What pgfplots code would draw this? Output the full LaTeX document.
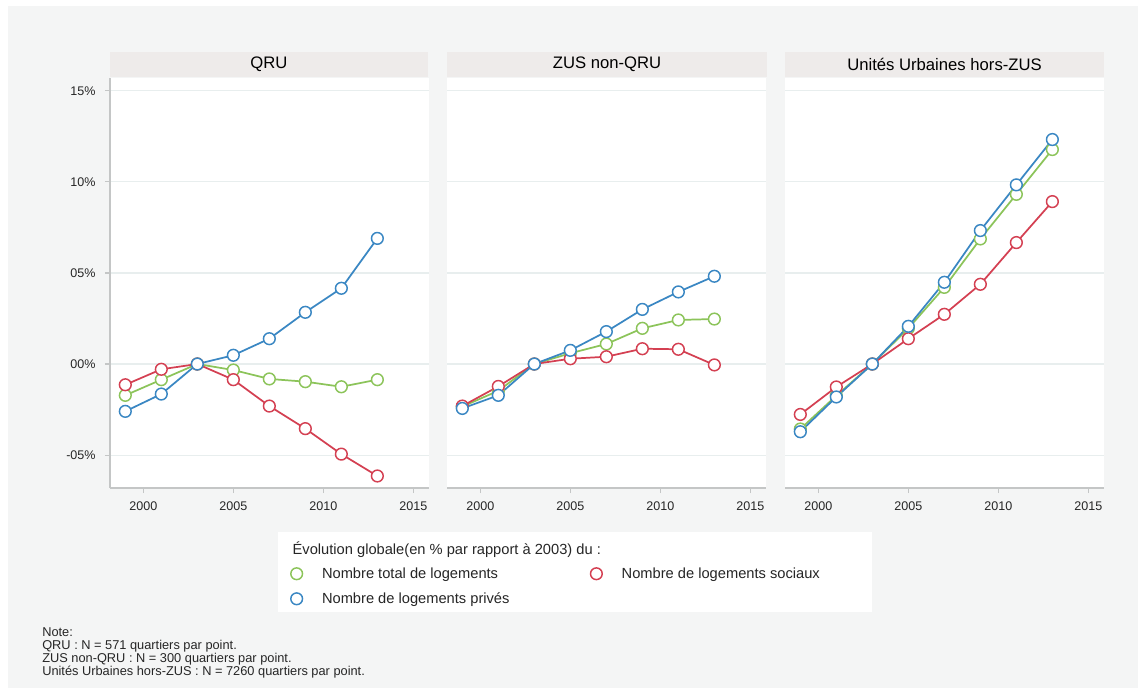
\documentclass[border=0pt]{standalone}
\usepackage{fontspec}
\setmainfont{Liberation Sans}
\usepackage{pgfplots}
\pgfplotsset{compat=1.18}
\definecolor{bgc}{HTML}{F4F5F5}
\definecolor{stripc}{HTML}{EEEBEA}
\definecolor{axc}{HTML}{C4C6C6}
\definecolor{gridc}{HTML}{E8EEEE}
\definecolor{cg}{RGB}{140,196,90}
\definecolor{cb}{RGB}{58,135,195}
\definecolor{cr}{RGB}{212,64,82}

% year, total, prives, sociaux
\pgfplotstableread{
x g b r
1999 -1.72 -2.60 -1.14
2001 -0.86 -1.65 -0.29
2003 0 0 0
2005 -0.33 0.48 -0.86
2007 -0.82 1.39 -2.31
2009 -0.97 2.84 -3.55
2011 -1.25 4.16 -4.95
2013 -0.86 6.90 -6.15
}\qru
\pgfplotstableread{
x g b r
1999 -2.34 -2.44 -2.31
2001 -1.47 -1.72 -1.23
2003 0 0 0
2005 0.59 0.75 0.29
2007 1.10 1.78 0.40
2009 1.96 3.00 0.84
2011 2.42 3.96 0.81
2013 2.47 4.82 -0.05
}\zus
\pgfplotstableread{
x g b r
1999 -3.57 -3.72 -2.77
2001 -1.74 -1.81 -1.26
2003 0 0 0
2005 1.96 2.07 1.39
2007 4.21 4.49 2.73
2009 6.87 7.33 4.38
2011 9.32 9.84 6.67
2013 11.78 12.33 8.92
}\uu

\pgfplotsset{
  panel/.style={
    scale only axis, width=239pt, height=307.5pt, anchor=south west,
    xmin=1998.15, xmax=2015.85, ymin=-6.81, ymax=15.71,
    axis background/.style={fill=white},
    axis lines*=left,
    axis line style={axc, line width=0.9pt},
    xtick={2000,2005,2010,2015}, xticklabels={2000,2005,2010,2015},
    ytick={-5,0,5,10,15},
    yticklabels={-05\%,00\%,05\%,10\%,15\%},
    tick align=outside, major tick length=3.8pt,
    tick style={axc, line width=0.8pt},
    ymajorgrids, grid style={gridc, line width=0.8pt},
    tick label style={font=\fontsize{9.4}{11}\selectfont, text=black!85},
    xticklabel style={yshift=-3pt},
    yticklabel style={xshift=-3.5pt},
    clip=false,
  },
  ser/.style={color=#1, line width=1.3pt, mark=*, mark size=4.4pt,
    mark options={fill=white, draw=#1, line width=1.1pt},
    legend image code/.code={\draw[##1,only marks] plot coordinates {(0cm,0cm)}; \path (0.575cm,0cm);}},
}

\begin{document}
\begin{tikzpicture}[x=0.75pt,y=0.75pt]
\fill[bgc] (0,0) rectangle (1138,688);
\fill[white] (0,0) rectangle (8,688);
\fill[white] (0,682) rectangle (1138,688);
% strips
\fill[stripc] (110,611) rectangle (428,636);
\fill[stripc] (447,611) rectangle (767,636);
\fill[stripc] (785,611) rectangle (1104,636);
\node[font=\fontsize{12.5}{14}\selectfont] at (269,623.5) {QRU};
\node[font=\fontsize{12.5}{14}\selectfont] at (607,623.5) {ZUS non-QRU};
\node[font=\fontsize{12.5}{14}\selectfont] at (944.5,623.5) {Unités Urbaines hors-ZUS};
% legend box
\fill[white] (278,76) rectangle (872,156);
\node[anchor=west, font=\fontsize{11}{13}\selectfont, text=black!85] at (288,138) {Évolution globale(en \% par rapport à 2003) du :};
% note
\node[anchor=north west, inner sep=0pt, align=left, font=\fontsize{9.6}{9.75}\selectfont, text=black!85] at (42,61) {Note:\\QRU : N = 571 quartiers par point.\\ZUS non-QRU : N = 300 quartiers par point.\\Unités Urbaines hors-ZUS : N = 7260 quartiers par point.};

\begin{axis}[panel, at={(82.5pt,150pt)}]
\addplot[ser=cg] table[x=x,y=g] {\qru};
\addplot[ser=cr] table[x=x,y=r] {\qru};
\addplot[ser=cb] table[x=x,y=b] {\qru};
\end{axis}

\begin{axis}[panel, at={(335.25pt,150pt)}, yticklabels={}, y axis line style={draw=none}, ytick style={draw=none},
  legend columns=2,
  legend style={at={(-0.491,-0.1866)}, anchor=north west, draw=none, fill=none, inner sep=0pt,
    font=\fontsize{11}{13}\selectfont, text=black!85, row sep=5.25pt,
    /tikz/every even column/.append style={column sep=58.75pt}},
  legend cell align=left]
\addplot[ser=cg] table[x=x,y=g] {\zus};
\addlegendentry{Nombre total de logements}
\addplot[ser=cr] table[x=x,y=r] {\zus};
\addlegendentry{Nombre de logements sociaux}
\addplot[ser=cb] table[x=x,y=b] {\zus};
\addlegendentry{Nombre de logements privés}
\end{axis}

\begin{axis}[panel, at={(588.75pt,150pt)}, yticklabels={}, y axis line style={draw=none}, ytick style={draw=none}]
\addplot[ser=cg] table[x=x,y=g] {\uu};
\addplot[ser=cr] table[x=x,y=r] {\uu};
\addplot[ser=cb] table[x=x,y=b] {\uu};
\end{axis}
\end{tikzpicture}
\end{document}
